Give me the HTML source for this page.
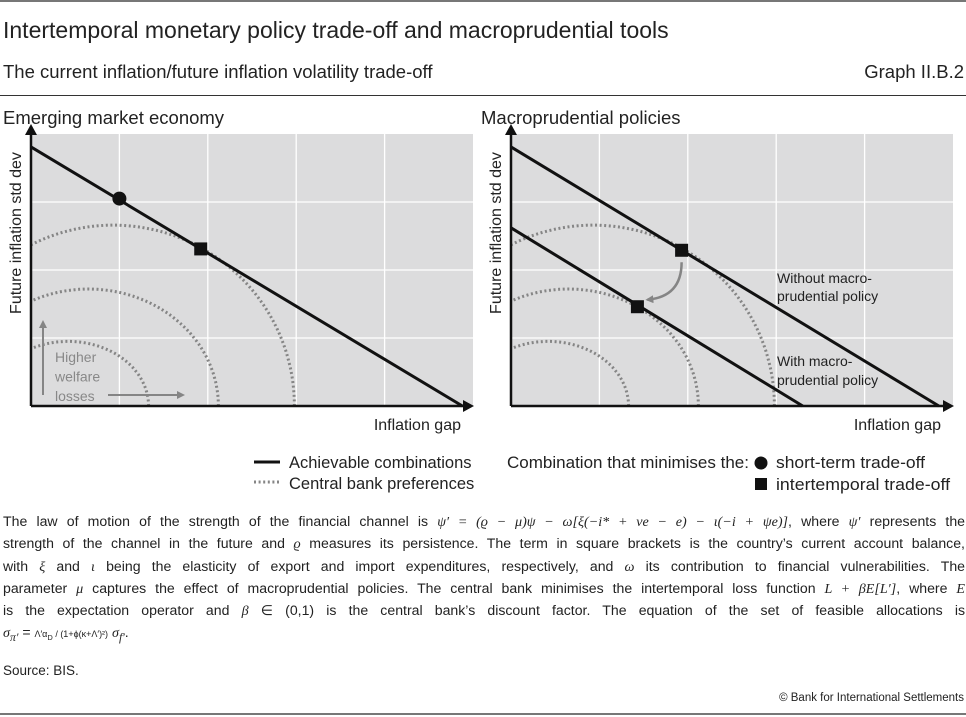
<!DOCTYPE html>
<html><head><meta charset="utf-8"><style>
body{margin:0;width:966px;height:717px;background:#fff;font-family:"Liberation Sans",sans-serif;color:#222;position:relative;overflow:hidden}
.abs{position:absolute;white-space:nowrap}
#foot{position:absolute;left:3px;top:510px;width:962px;font-size:14.1px;line-height:22.3px}
#foot .j{text-align:justify;text-align-last:justify;white-space:nowrap;height:22.3px}
i{font-family:"Liberation Serif",serif}
</style></head><body>
<div class="abs" style="left:0;top:0;width:966px;height:2px;background:#777"></div>
<div class="abs" style="left:3px;top:17px;font-size:23px">Intertemporal monetary policy trade-off and macroprudential tools</div>
<div class="abs" style="left:3px;top:61px;font-size:18.5px">The current inflation/future inflation volatility trade-off</div>
<div class="abs" style="right:2px;top:61px;font-size:18.5px">Graph II.B.2</div>
<div class="abs" style="left:0;top:95px;width:966px;height:1px;background:#333"></div>
<svg id="svg" width="966" height="500" style="position:absolute;left:0;top:0"></svg>
<div id="foot">
<div class="j">The law of motion of the strength of the financial channel is <i>ψ′ = (ϱ − μ)ψ − ω[ξ(−i* + νe − e) − ι(−i + ψe)]</i>, where <i>ψ′</i> represents the</div>
<div class="j">strength of the channel in the future and <i>ϱ</i> measures its persistence. The term in square brackets is the country’s current account balance,</div>
<div class="j">with <i>ξ</i> and <i>ι</i> being the elasticity of export and import expenditures, respectively, and <i>ω</i> its contribution to financial vulnerabilities. The</div>
<div class="j">parameter <i>μ</i> captures the effect of macroprudential policies. The central bank minimises the intertemporal loss function <i>L + βE[L′]</i>, where <i>E</i></div>
<div class="j">is the expectation operator and <i>β</i> ∈ (0,1) is the central bank’s discount factor. The equation of the set of feasible allocations is</div>
<div><i>σ<sub>π′</sub></i> = <span style="font-size:9px">Λ′α<sub>D</sub> / (1+ϕ(κ+Λ′)²)</span> <i>σ<sub>f′</sub></i>.</div>
</div>
<div class="abs" style="left:3px;top:663px;font-size:13.5px">Source: BIS.</div>
<div class="abs" style="right:2px;top:692px;font-size:11.5px">© Bank for International Settlements</div>
<div class="abs" style="left:0;top:713px;width:966px;height:2px;background:#777"></div>
<script>
// data (in grid units: x 0..5, y 0..4)
const arcCenters=[0.93,0.65,0.42];
const arcRx=[2.05,1.47,0.91];
const arcRy=[2.66,1.72,0.95];
const leftLine=[[0,3.81],[4.88,0]];
const leftCircle=[1.0,3.05];
const leftSquare=[1.92,2.31];
const rightUpper=[[0,3.81],[4.84,0]];
const rightLower=[[0,2.62],[3.30,0]];
const rightSquares=[[1.93,2.29],[1.43,1.46]];
const NS='http://www.w3.org/2000/svg';
const svg=document.getElementById('svg');
function mk(t,a,p){const e=document.createElementNS(NS,t);for(const k in a)e.setAttribute(k,a[k]);(p||svg).appendChild(e);return e;}
function panel(x0,name){
  const W=442,B=406,T=134,ux=W/5,uy=(B-T)/4;
  const sx=d=>x0+d*ux, sy=d=>B-d*uy;
  const g=mk('g',{});
  
  
  const bg=mk('rect',{x:x0,y:T,width:W,height:B-T,fill:'#dcdcdd'},g);
  
  
  for(let i=1;i<5;i++){const l=mk('line',{x1:sx(i),x2:sx(i),y1:T,y2:B,stroke:'#fff','stroke-width':1.3},g);
    }
  for(let j=1;j<4;j++){const l=mk('line',{x1:x0,x2:x0+W,y1:sy(j),y2:sy(j),stroke:'#fff','stroke-width':1.3},g);
    }
  const cid='clip'+x0;
  const cp=mk('clipPath',{id:cid},g);mk('rect',{x:x0,y:T,width:W,height:B-T},cp);
  for(let k=0;k<arcCenters.length;k++){
    let d='';
    for(let s=0;s<=90;s++){const th=Math.PI*s/90;const xx=arcCenters[k]+arcRx[k]*Math.cos(th),yy=arcRy[k]*Math.sin(th);
      d+=(s?'L':'M')+sx(xx).toFixed(1)+' '+sy(yy).toFixed(1);}
    const p=mk('path',{d:d,fill:'none',stroke:'#858585','stroke-width':3,'stroke-dasharray':'2 2.6','clip-path':'url(#'+cid+')'},g);
    
    
  }
  return {g,sx,sy,W,B,T,x0,ux};
}
function axes(P){
  const {g,x0,B,T,W}=P;
  mk('line',{x1:x0,y1:B,x2:x0+W-2,y2:B,stroke:'#111','stroke-width':2.5},g);
  mk('line',{x1:x0,y1:B,x2:x0,y2:T-4,stroke:'#111','stroke-width':2.5},g);
  mk('path',{d:`M${x0+W+1} ${B} l-11 -6 v12z`,fill:'#111'},g);
  mk('path',{d:`M${x0} ${T-10} l-6 11 h12z`,fill:'#111'},g);
  const xl=mk('text',{x:x0+430,y:430,'font-size':16,'text-anchor':'end',fill:'#222'},g);xl.textContent='Inflation gap';
  
  const yl=mk('text',{x:0,y:0,'font-size':16,'text-anchor':'middle',fill:'#222',transform:`translate(${x0-10},${233}) rotate(-90)`},g);yl.textContent='Future inflation std dev';
  
}
function line(P,pts,name){const l=mk('line',{x1:P.sx(pts[0][0]),y1:P.sy(pts[0][1]),x2:P.sx(pts[1][0]),y2:P.sy(pts[1][1]),stroke:'#111','stroke-width':3},P.g);
  }
function sq(P,pt,name){const r=mk('rect',{x:P.sx(pt[0])-6.5,y:P.sy(pt[1])-6.5,width:13,height:13,fill:'#111'},P.g);
  }
function txt(x,y,s,t,fill,name){const e=mk('text',{x:x,y:y,'font-size':s,fill:fill||'#222'});e.textContent=t;
  return e;}
mk('defs',{}).innerHTML='<marker id="ah" markerWidth="8" markerHeight="8" refX="6" refY="4" orient="auto" markerUnits="userSpaceOnUse"><path d="M0 0 L8 4 L0 8z" fill="#858585"/></marker>';
// Left
txt(3,124,18.5,'Emerging market economy','#222','left-panel-title');
const L=panel(31,'left-panel');
line(L,leftLine,'achievable-line');
const c=mk('circle',{cx:L.sx(leftCircle[0]),cy:L.sy(leftCircle[1]),r:7,fill:'#111'},L.g);

sq(L,leftSquare,'intertemporal-point');
axes(L);
['Higher','welfare','losses'].forEach((t,i)=>txt(55,362+i*19.5,14,t,'#888','welfare-label'));
mk('line',{x1:43,y1:395,x2:43,y2:322,stroke:'#858585','stroke-width':2,'marker-end':'url(#ah)'});
mk('line',{x1:108,y1:395,x2:183,y2:395,stroke:'#858585','stroke-width':2,'marker-end':'url(#ah)'});
// Right
txt(481,124,18.5,'Macroprudential policies','#222','right-panel-title');
const R=panel(511,'right-panel');
line(R,rightUpper,'without-macroprudential-line');
line(R,rightLower,'with-macroprudential-line');
rightSquares.forEach((p,i)=>sq(R,p,'intertemporal-point-'+(i+1)));
axes(R);
const a=mk('path',{d:`M${R.sx(rightSquares[0][0])} ${R.sy(rightSquares[0][1])+12} Q${R.sx(rightSquares[0][0])} ${R.sy(rightSquares[1][1])-10} ${R.sx(rightSquares[1][0])+10} ${R.sy(rightSquares[1][1])-7}`,fill:'none',stroke:'#858585','stroke-width':2.5,'marker-end':'url(#ah)'});

txt(777,283,14,'Without macro-','#222','without-label');
txt(777,301,14,'prudential policy','#222','without-label');
txt(777,366,14,'With macro-','#222','with-label');
txt(777,385,14,'prudential policy','#222','with-label');
// Legend
const lg1=mk('line',{x1:254,y1:462,x2:280,y2:462,stroke:'#111','stroke-width':3});

txt(289,468,16.5,'Achievable combinations','#222','legend-entry');
const lg2=mk('line',{x1:254,y1:482,x2:280,y2:482,stroke:'#858585','stroke-width':3,'stroke-dasharray':'2 2.6'});

txt(289,489,16.5,'Central bank preferences','#222','legend-entry');
const lh=txt(507,468,16.5,'Combination that minimises the:','#222','legend-heading');
lh.setAttribute('textLength','242');lh.setAttribute('lengthAdjust','spacingAndGlyphs');
mk('circle',{cx:761,cy:463,r:6.5,fill:'#111'});
const l3=txt(776,468,16.5,'short-term trade-off','#222','legend-entry');
l3.setAttribute('textLength','149');l3.setAttribute('lengthAdjust','spacingAndGlyphs');
mk('rect',{x:755,y:478,width:12,height:12,fill:'#111'});
const l4=txt(776,490,16.5,'intertemporal trade-off','#222','legend-entry');
l4.setAttribute('textLength','174');l4.setAttribute('lengthAdjust','spacingAndGlyphs');
</script>
</body></html>
